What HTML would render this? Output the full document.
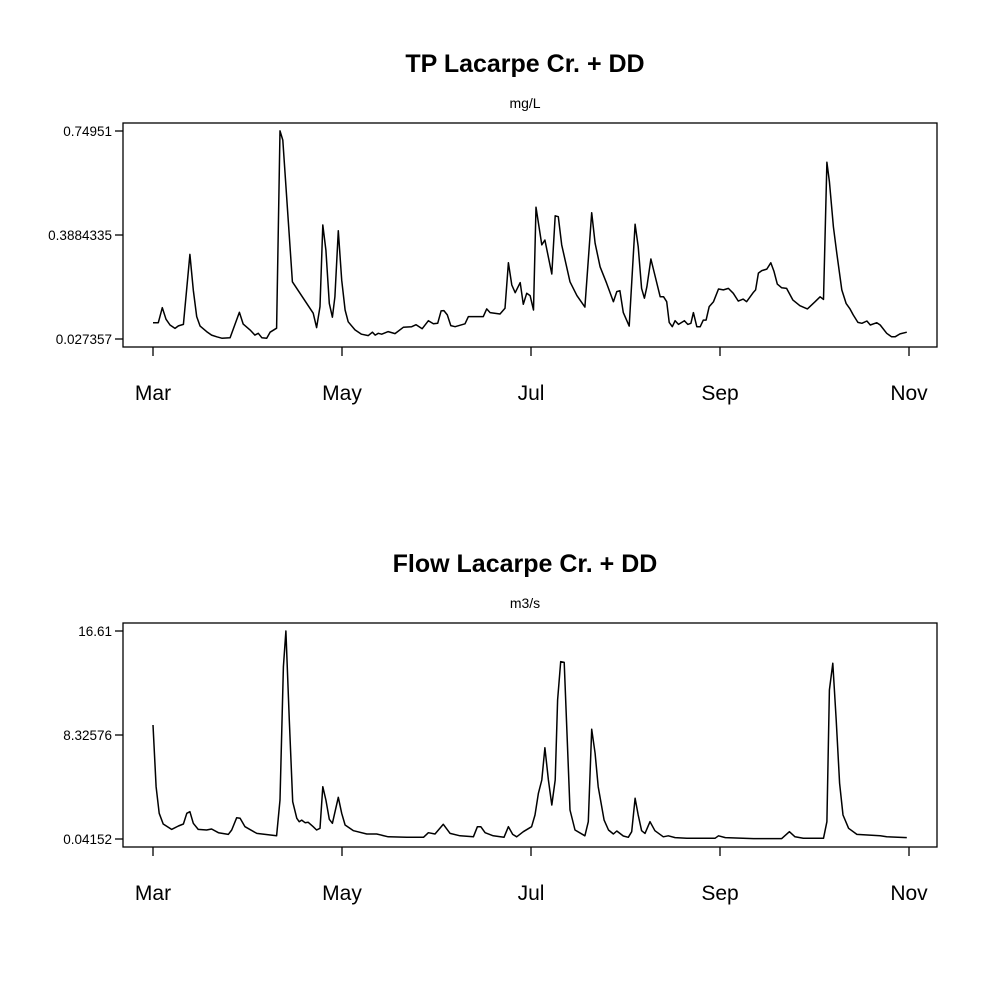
<!DOCTYPE html>
<html><head><meta charset="utf-8"><style>
html,body{margin:0;padding:0;background:#fff;}
svg{display:block;font-family:"Liberation Sans",Arial,sans-serif;}
</style></head><body>
<svg id="chart" width="1000" height="1000" viewBox="0 0 1000 1000">
<rect x="0" y="0" width="1000" height="1000" fill="#fff"/>
<g id="tp"></g>
<g id="flow"></g>
</svg>
<script>
const monthLabels = ["Mar","May","Jul","Sep","Nov"];
const monthDays = [0,61,122,183,244];

const tpDays = [0,1.7,3.0,4.2,5.5,7.1,8.2,9.8,11.9,13.0,14.1,15.2,17.3,18.9,20.6,22.2,24.9,27.9,29.1,31.3,32.9,34.0,35.1,36.7,37.8,39.9,41.0,41.9,45.0,51.7,52.8,53.9,54.8,55.8,56.9,57.9,58.7,59.8,60.9,62.0,63.0,65.2,67.3,69.5,70.8,71.7,72.7,73.8,75.9,78.1,80.8,83.5,84.9,86.9,88.9,90.5,91.9,93.0,93.9,95.0,96.1,97.5,100.7,101.8,106.6,107.7,108.8,112.0,113.6,114.7,115.8,116.9,118.5,119.5,120.6,121.7,122.8,123.6,125.5,126.5,128.7,129.8,130.8,131.9,134.6,136.8,139.4,141.6,142.7,144.3,146.4,148.6,149.7,150.7,151.8,153.7,155.6,156.6,157.7,158.6,159.4,160.7,163.7,164.8,165.8,166.6,167.6,168.5,169.6,171.5,172.6,173.6,174.4,175.5,176.6,177.6,178.5,179.5,180.9,182.5,184.1,185.7,187.3,188.9,190.5,191.6,193.8,194.5,195.4,196.5,198.1,199.4,200.4,201.5,202.9,204.5,206.5,208.8,211.2,213.7,215.3,216.4,217.5,218.3,219.6,220.7,222.3,223.7,225.0,226.0,227.5,228.8,230.4,231.5,233.6,234.7,236.8,238.4,239.5,241.1,243.3];
const tpValues = [0.084,0.084,0.136,0.096,0.076,0.064,0.073,0.078,0.321,0.197,0.105,0.072,0.053,0.041,0.035,0.030,0.032,0.120,0.079,0.059,0.041,0.047,0.032,0.030,0.051,0.065,0.750,0.718,0.226,0.117,0.067,0.140,0.423,0.336,0.151,0.103,0.174,0.403,0.232,0.128,0.087,0.059,0.044,0.039,0.051,0.041,0.047,0.044,0.053,0.046,0.068,0.070,0.077,0.063,0.091,0.080,0.082,0.125,0.126,0.111,0.074,0.070,0.080,0.105,0.105,0.132,0.119,0.114,0.134,0.292,0.215,0.188,0.223,0.148,0.186,0.178,0.128,0.485,0.354,0.371,0.253,0.455,0.452,0.354,0.226,0.178,0.138,0.466,0.360,0.278,0.221,0.157,0.192,0.195,0.119,0.072,0.426,0.348,0.203,0.169,0.209,0.305,0.174,0.174,0.157,0.085,0.070,0.091,0.078,0.091,0.078,0.082,0.119,0.070,0.070,0.093,0.093,0.140,0.157,0.201,0.198,0.203,0.186,0.159,0.166,0.157,0.190,0.198,0.256,0.265,0.270,0.292,0.263,0.218,0.205,0.203,0.163,0.143,0.132,0.157,0.174,0.165,0.641,0.574,0.417,0.325,0.198,0.151,0.131,0.111,0.085,0.082,0.090,0.076,0.084,0.076,0.047,0.035,0.035,0.045,0.051];
const tpTicks = [0.027357,0.3884335,0.74951];
const tpTickLabels = ["0.027357","0.3884335","0.74951"];

const flowDays = [0,1.0,2.0,3.3,6.0,8.2,9.8,10.9,11.9,13.0,14.6,17.3,18.9,21.1,24.3,25.4,27.0,28.1,29.7,33.5,39.9,41.0,42.1,42.9,44.0,45.1,46.4,47.2,48.0,49.1,50.1,51.7,52.8,53.9,54.8,55.8,56.9,57.9,59.8,60.9,62.0,64.7,69.0,72.2,75.9,81.9,87.3,88.9,91.0,93.7,95.9,99.1,103.4,104.7,105.8,107.2,109.8,113.3,114.7,116.1,117.4,119.5,122.2,123.3,124.4,125.5,126.5,127.6,128.7,129.8,130.6,131.6,132.7,134.6,136.2,139.4,140.5,141.6,142.7,143.7,145.6,147.0,148.6,149.7,151.8,153.4,154.5,155.6,156.6,157.7,158.8,160.4,162.0,164.7,166.3,168.5,172.3,181.4,182.5,184.7,193.8,202.9,205.4,207.2,209.9,216.4,217.5,218.3,219.4,220.5,221.6,222.7,224.5,227.2,234.7,236.8,243.3];
const flowValues = [9.12,4.21,2.09,1.24,0.81,1.08,1.24,2.09,2.22,1.29,0.81,0.76,0.84,0.54,0.41,0.76,1.74,1.69,1.02,0.49,0.30,3.15,13.77,16.61,9.52,3.01,1.69,1.42,1.55,1.34,1.37,1.02,0.76,0.89,4.21,3.15,1.61,1.29,3.36,2.09,1.16,0.70,0.44,0.44,0.22,0.18,0.18,0.54,0.44,1.21,0.49,0.30,0.22,1.02,1.02,0.54,0.30,0.18,1.02,0.41,0.22,0.62,1.02,1.95,3.68,4.74,7.31,4.74,2.75,4.74,11.11,14.17,14.12,2.35,0.76,0.30,1.42,8.78,6.87,4.21,1.55,0.76,0.44,0.68,0.28,0.18,0.62,3.28,1.95,0.70,0.49,1.42,0.70,0.22,0.30,0.15,0.10,0.10,0.30,0.15,0.07,0.07,0.62,0.22,0.10,0.10,1.42,11.91,14.04,9.52,4.48,1.95,0.89,0.41,0.30,0.22,0.15];
const flowTicks = [0.04152,8.32576,16.61];
const flowTickLabels = ["0.04152","8.32576","16.61"];

const NS = "http://www.w3.org/2000/svg";
function mk(tag, attrs, parent){
  const e = document.createElementNS(NS, tag);
  for (const k in attrs) e.setAttribute(k, attrs[k]);
  parent.appendChild(e);
  return e;
}
function drawPanel(g, top, title, unit, days, vals, ticks, tickLabels, prefix){
  const bottom = top + 224;
  const xS = d => 153 + d * (756 / 244);
  const yMin = ticks[0], yMax = ticks[2];
  const yS = v => (bottom - 8) - (v - yMin) / (yMax - yMin) * 208;
  const t = mk("text", {x:525, y:top-51, "text-anchor":"middle", "font-size":"25", "font-weight":"bold", fill:"#000"}, g);
  t.textContent = title;
  
  
  const u = mk("text", {x:525, y:top-15, "text-anchor":"middle", "font-size":"14", fill:"#000"}, g);
  u.textContent = unit;
  
  
  const box = mk("rect", {x:123, y:top, width:814, height:224, fill:"none", stroke:"#000", "stroke-width":"1.3"}, g);
  
  
  const ya = mk("g", {}, g);
  
  
  ticks.forEach((v, i) => {
    const y = yS(v);
    mk("line", {x1:115, x2:123, y1:y, y2:y, stroke:"#000", "stroke-width":"1.3"}, ya);
    const lt = mk("text", {x:112, y:y+5, "text-anchor":"end", "font-size":"13.5", fill:"#000"}, ya);
    lt.textContent = tickLabels[i];
    
    
  });
  const xa = mk("g", {}, g);
  
  
  monthDays.forEach((d, i) => {
    const x = xS(d);
    mk("line", {x1:x, x2:x, y1:bottom, y2:bottom+9, stroke:"#000", "stroke-width":"1.3"}, xa);
    const lt = mk("text", {x:x, y:bottom+53, "text-anchor":"middle", "font-size":"21", fill:"#000"}, xa);
    lt.textContent = monthLabels[i];
    
    
  });
  const pts = days.map((d, i) => xS(d).toFixed(1) + "," + yS(vals[i]).toFixed(1)).join(" ");
  const line = mk("polyline", {points:pts, fill:"none", stroke:"#000", "stroke-width":"1.5", "stroke-linejoin":"round"}, g);
  
  
}
drawPanel(document.getElementById("tp"), 123, "TP Lacarpe Cr. + DD", "mg/L", tpDays, tpValues, tpTicks, tpTickLabels, "tp");
drawPanel(document.getElementById("flow"), 623, "Flow Lacarpe Cr. + DD", "m3/s", flowDays, flowValues, flowTicks, flowTickLabels, "flow");
</script>
</body></html>
